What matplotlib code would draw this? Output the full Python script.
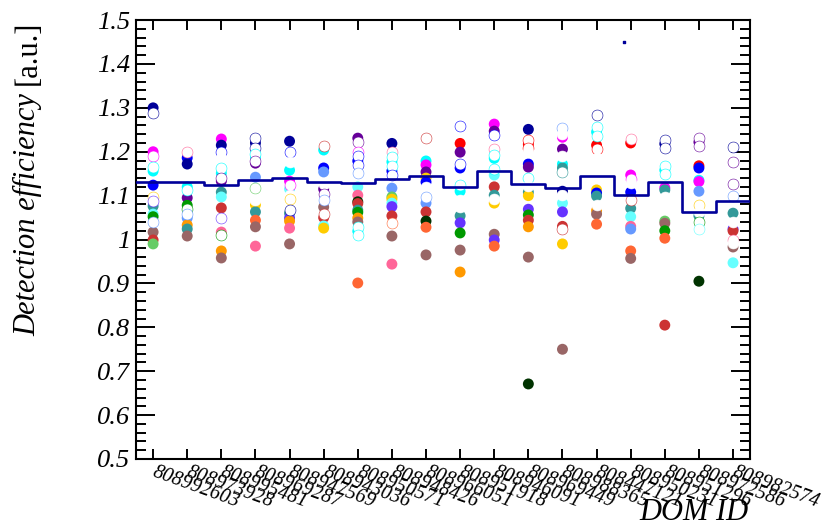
import numpy as np
import matplotlib
matplotlib.use('Agg')
import matplotlib.pyplot as plt
from matplotlib.ticker import MultipleLocator

plt.rcParams['font.family'] = 'Liberation Serif'

# DOM IDs (x categories)
dom_ids = ['808992603', '808973928', '808995481', '808969287', '808947569', '808943036',
           '808950571', '808948426', '808966051', '808951918', '808946091', '808969449',
           '808988365', '808447121', '808950231', '808951296', '808972586', '808982574']

# mean efficiency per DOM (blue histogram)
mean_eff = [1.131, 1.131, 1.124, 1.135, 1.140, 1.131, 1.129, 1.138, 1.145,
            1.120, 1.156, 1.126, 1.117, 1.145, 1.101, 1.131, 1.063, 1.088]

# colour names used for the runs
palette = {
    'navy': '#000099', 'blue': '#0000ff', 'magenta': '#ff00ff', 'red': '#ff0000',
    'purple': '#660099', 'cyan': '#00ffff', 'lcyan': '#66ffff', 'teal': '#339999',
    'cornflower': '#6699ff', 'violet': '#6633ff', 'green': '#009900', 'dkgreen': '#003300',
    'brown': '#996666', 'salmon': '#ff6699', 'orange': '#ff9900', 'orred': '#ff6633',
    'gold': '#ffcc00', 'lgreen': '#66cc66', 'crimson': '#cc3333', 'white': '#ffffff',
}

# filled points per DOM: (efficiency, colour)
dom01 = [(1.300, 'navy'), (1.200, 'magenta'), (1.156, 'cyan'), (1.124, 'blue'), (1.076, 'teal'),
         (1.058, 'lcyan'), (1.052, 'green'), (1.017, 'brown'), (0.999, 'crimson'), (0.990, 'lgreen')]
dom02 = [(1.186, 'blue'), (1.172, 'navy'), (1.120, 'cyan'), (1.095, 'purple'), (1.078, 'green'),
         (1.049, 'cornflower'), (1.033, 'orange'), (1.024, 'teal'), (1.008, 'brown')]
dom03 = [(1.229, 'magenta'), (1.215, 'navy'), (1.151, 'cyan'), (1.133, 'purple'), (1.108, 'teal'),
         (1.097, 'lcyan'), (1.072, 'crimson'), (1.017, 'salmon'), (0.974, 'orange'), (0.958, 'brown')]
dom04 = [(1.220, 'navy'), (1.188, 'cyan'), (1.174, 'purple'), (1.142, 'cornflower'), (1.079, 'gold'),
         (1.063, 'teal'), (1.044, 'orred'), (1.029, 'brown'), (0.985, 'salmon')]
dom05 = [(1.224, 'navy'), (1.158, 'cyan'), (1.133, 'magenta'), (1.115, 'lcyan'), (1.060, 'teal'),
         (1.049, 'violet'), (1.042, 'orange'), (1.026, 'salmon'), (0.990, 'brown')]
dom06 = [(1.204, 'cyan'), (1.163, 'blue'), (1.154, 'cornflower'), (1.115, 'purple'), (1.074, 'brown'),
         (1.050, 'crimson'), (1.031, 'lcyan'), (1.026, 'gold')]
dom07 = [(1.231, 'purple'), (1.179, 'blue'), (1.120, 'lcyan'), (1.101, 'salmon'), (1.086, 'dkgreen'),
         (1.082, 'crimson'), (1.067, 'teal'), (1.062, 'green'), (1.049, 'orange'), (1.040, 'brown'),
         (1.019, 'cyan'), (0.901, 'orred')]
dom08 = [(1.219, 'navy'), (1.177, 'cyan'), (1.156, 'blue'), (1.117, 'cornflower'), (1.097, 'lgreen'),
         (1.092, 'gold'), (1.083, 'lcyan'), (1.075, 'violet'), (1.054, 'crimson'), (1.008, 'brown'),
         (0.944, 'salmon')]
dom09 = [(1.179, 'cyan'), (1.170, 'magenta'), (1.154, 'purple'), (1.140, 'gold'), (1.131, 'blue'),
         (1.083, 'cornflower'), (1.063, 'crimson'), (1.042, 'dkgreen'), (1.028, 'orred'), (0.965, 'brown')]
dom10 = [(1.219, 'red'), (1.199, 'purple'), (1.163, 'blue'), (1.110, 'cyan'), (1.054, 'teal'),
         (1.038, 'violet'), (1.015, 'green'), (0.976, 'brown'), (0.926, 'orange')]
dom11 = [(1.263, 'magenta'), (1.247, 'purple'), (1.185, 'cyan'), (1.147, 'lcyan'), (1.120, 'crimson'),
         (1.101, 'teal'), (1.083, 'gold'), (1.012, 'brown'), (0.999, 'violet'), (0.985, 'orred')]
dom12 = [(1.251, 'navy'), (1.217, 'red'), (1.172, 'blue'), (1.165, 'purple'), (1.108, 'teal'),
         (1.100, 'gold'), (1.069, 'violet'), (1.056, 'green'), (1.044, 'crimson'), (1.029, 'orange'),
         (0.960, 'brown'), (0.671, 'dkgreen')]
dom13 = [(1.233, 'magenta'), (1.206, 'purple'), (1.172, 'cyan'), (1.163, 'teal'), (1.110, 'navy'),
         (1.083, 'lcyan'), (1.063, 'violet'), (1.030, 'crimson'), (0.990, 'gold'), (0.750, 'brown')]
dom14 = [(1.245, 'cyan'), (1.215, 'red'), (1.113, 'gold'), (1.106, 'blue'), (1.099, 'teal'),
         (1.066, 'orange'), (1.058, 'brown'), (1.035, 'orred')]
dom15 = [(1.220, 'red'), (1.147, 'magenta'), (1.108, 'blue'), (1.071, 'teal'), (1.052, 'lcyan'),
         (1.030, 'salmon'), (1.024, 'cornflower'), (0.974, 'orred'), (0.957, 'brown')]
dom16 = [(1.218, 'navy'), (1.158, 'cyan'), (1.118, 'magenta'), (1.113, 'teal'), (1.042, 'lgreen'),
         (1.037, 'brown'), (1.020, 'green'), (1.003, 'orred'), (0.805, 'crimson')]
dom17 = [(1.222, 'purple'), (1.168, 'red'), (1.163, 'blue'), (1.135, 'cyan'), (1.132, 'magenta'),
         (1.110, 'cornflower'), (1.054, 'teal'), (0.905, 'dkgreen')]
dom18 = [(1.060, 'teal'), (1.024, 'violet'), (1.020, 'crimson'), (0.983, 'brown'), (0.947, 'lcyan')]

# white-filled points per DOM: (efficiency, edge colour)
open01 = [(1.289, 'navy'), (1.190, 'magenta'), (1.165, 'cyan'), (1.097, 'gold'), (1.088, 'violet'), (1.040, 'cornflower')]
open02 = [(1.199, 'salmon'), (1.112, 'cyan'), (1.070, 'green'), (1.058, 'cornflower')]
open03 = [(1.200, 'blue'), (1.185, 'white'), (1.162, 'cyan'), (1.140, 'purple'), (1.049, 'violet'), (1.010, 'green')]
open04 = [(1.231, 'navy'), (1.209, 'navy'), (1.196, 'cyan'), (1.180, 'purple'), (1.118, 'lgreen'), (1.090, 'white')]
open05 = [(1.199, 'blue'), (1.177, 'white'), (1.124, 'magenta'), (1.102, 'white'), (1.092, 'gold'), (1.068, 'navy')]
open06 = [(1.214, 'crimson'), (1.126, 'white'), (1.104, 'purple'), (1.090, 'cornflower'), (1.058, 'crimson')]
open07 = [(1.222, 'purple'), (1.199, 'magenta'), (1.190, 'blue'), (1.170, 'blue'), (1.151, 'cornflower'),
          (1.028, 'cyan'), (1.010, 'cyan')]
open08 = [(1.199, 'salmon'), (1.187, 'cyan'), (1.168, 'cyan'), (1.147, 'blue'), (1.037, 'orred')]
open09 = [(1.231, 'crimson'), (1.120, 'white'), (1.110, 'white'), (1.097, 'cornflower')]
open10 = [(1.259, 'blue'), (1.172, 'blue'), (1.124, 'cyan'), (1.090, 'white'), (1.075, 'white')]
open11 = [(1.238, 'blue'), (1.206, 'salmon'), (1.193, 'cyan'), (1.160, 'cyan'), (1.092, 'white')]
open12 = [(1.226, 'red'), (1.208, 'red'), (1.199, 'white'), (1.140, 'cyan'), (1.122, 'white')]
open13 = [(1.255, 'cornflower'), (1.241, 'white'), (1.190, 'white'), (1.153, 'teal'), (1.102, 'white'), (1.024, 'crimson')]
open14 = [(1.284, 'navy'), (1.256, 'cyan'), (1.235, 'cyan'), (1.207, 'red'), (1.185, 'white'), (1.078, 'white')]
open15 = [(1.228, 'salmon'), (1.138, 'magenta'), (1.128, 'white'), (1.090, 'crimson')]
open16 = [(1.227, 'navy'), (1.209, 'navy'), (1.167, 'cyan'), (1.149, 'cyan'), (1.098, 'white'), (1.080, 'white')]
open17 = [(1.231, 'purple'), (1.213, 'purple'), (1.079, 'gold'), (1.062, 'white'), (1.040, 'green'), (1.025, 'lcyan')]
open18 = [(1.211, 'navy'), (1.176, 'purple'), (1.126, 'purple'), (1.100, 'cornflower'), (1.040, 'white'),
          (1.000, 'salmon'), (0.992, 'white')]

# one stray tiny point above DOM 15
stray_dom = 14
stray_eff = 1.450

filled = [dom01, dom02, dom03, dom04, dom05, dom06, dom07, dom08, dom09,
          dom10, dom11, dom12, dom13, dom14, dom15, dom16, dom17, dom18]
opened = [open01, open02, open03, open04, open05, open06, open07, open08, open09,
          open10, open11, open12, open13, open14, open15, open16, open17, open18]

fig = plt.figure(figsize=(8.27, 5.31), dpi=100)
ax = fig.add_axes([0.1645, 0.1356, 0.7425, 0.8266])

n = len(dom_ids)
centers = np.arange(n) + 0.5

for i, pts in enumerate(filled):
    for v, c in pts:
        ax.scatter(centers[i], v, s=62, color=palette[c], edgecolors='none', zorder=3)
for i, pts in enumerate(opened):
    for v, c in pts:
        ax.scatter(centers[i], v, s=62, facecolor='white', edgecolors=palette[c],
                   linewidths=0.4, zorder=4)

ax.scatter(centers[stray_dom] - 0.2, stray_eff, s=3, marker='s', color=palette['navy'], zorder=4)

edges = np.arange(n + 1)
ax.step(edges, mean_eff + [mean_eff[-1]], where='post', color='#000099', lw=1.9, zorder=5)

ax.set_xlim(0, n)
ax.set_ylim(0.5, 1.5)
ax.set_xticks(centers)
ax.set_xticklabels(dom_ids, rotation=-20, ha='left', va='center', rotation_mode='anchor',
                   fontsize=14.5, fontstyle='italic')
ax.yaxis.set_minor_locator(MultipleLocator(0.02))
ax.set_yticks(np.round(np.arange(0.5, 1.51, 0.1), 1))
ax.set_yticklabels(['0.5', '0.6', '0.7', '0.8', '0.9', '1', '1.1', '1.2', '1.3', '1.4', '1.5'],
                   fontsize=19, fontstyle='italic')

ax.tick_params(axis='y', which='major', direction='in', length=14, width=1.4,
               left=True, right=True, pad=4)
ax.tick_params(axis='y', which='minor', direction='in', length=7, width=1.4,
               left=True, right=True)
ax.tick_params(axis='x', which='major', direction='in', length=7, width=1.4,
               top=True, bottom=True, pad=9)
for sp in ax.spines.values():
    sp.set_linewidth(1.5)

# y title: italic words plus upright unit, right-aligned at the top of the frame
unit = fig.text(0.034, 0.962, '[a.u.]', rotation=90, ha='center', va='top', fontsize=22)
fig.canvas.draw()
bb = unit.get_window_extent(fig.canvas.get_renderer())
gap = 9
fig.text(0.034, (bb.y0 - gap) / fig.bbox.height, 'Detection efficiency', rotation=90,
         ha='center', va='top', fontsize=22, fontstyle='italic')

fig.text(0.905, 0.008, 'DOM ID', ha='right', va='bottom', fontsize=22, fontstyle='italic')

fig.savefig('out.png', dpi=100)
